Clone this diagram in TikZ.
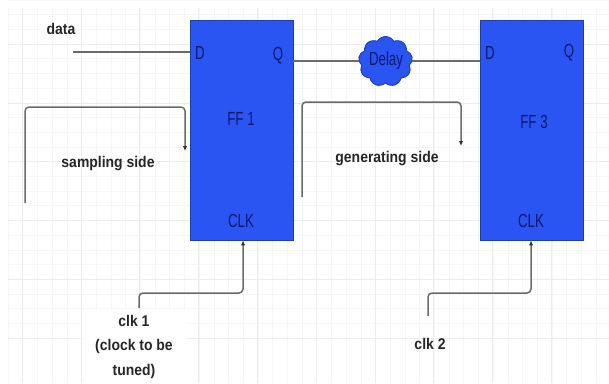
\documentclass[tikz,border=0pt]{standalone}
\usepackage{fontspec}
\setmainfont{Liberation Sans}
\usetikzlibrary{shapes.symbols,arrows.meta}
\definecolor{ffblue}{HTML}{2B55F2}
\definecolor{ffedge}{HTML}{1F3FA8}
\definecolor{ink}{HTML}{0C1A6E}
\definecolor{wire}{HTML}{6A6A6A}
\definecolor{gridminor}{HTML}{F6F6F6}
\definecolor{gridmajor}{HTML}{ECECEC}
\newcommand{\nrw}[1]{\scalebox{0.7}[1]{#1}}
\newcommand{\lnrw}[1]{\scalebox{0.9}[1]{#1}}
\tikzset{
  ffbox/.style={draw=ffedge,line width=0.9pt,fill=ffblue,minimum width=103pt,minimum height=220pt,inner sep=0pt},
  port/.style={text=ink,font=\fontsize{19}{22}\selectfont,inner sep=0pt},
  lbl/.style={text=black!85,font=\fontsize{15.5}{24.5}\selectfont\bfseries,inner sep=0pt,align=center},
  wireline/.style={draw=wire,line width=1.5pt},
  flow/.style={wireline,rounded corners=4pt,-{Latex[length=5pt,width=4.5pt,color=black!80]}},
  delaycloud/.style={cloud,cloud puffs=9,cloud puff arc=120,aspect=1.1,draw=ffedge,line width=0.9pt,fill=ffblue,minimum width=54pt,minimum height=50pt,inner sep=0pt},
}
\begin{document}
\begin{tikzpicture}[x=1pt,y=-1pt]
\useasboundingbox (0,0) rectangle (609,383);
\fill[white] (0,0) rectangle (609,383);
% grid
\foreach \i in {0,...,23} {
  \draw[gridminor,line width=0.5pt] (8,{-0.1+14.7*\i}) -- (609,{-0.1+14.7*\i});
}
\foreach \i in {0,...,41} {
  \draw[gridminor,line width=0.5pt] ({8+14.7*\i},8) -- ({8+14.7*\i},383);
}
\foreach \i in {0,...,6} {
  \draw[gridmajor,line width=0.5pt] (8,{44+58.8*\i}) -- (609,{44+58.8*\i});
}
\foreach \i in {0,...,10} {
  \draw[gridmajor,line width=0.5pt] ({22+58.8*\i},8) -- ({22+58.8*\i},383);
}
\fill[white] (82,310) rectangle (187,383);
% boxes
\node[ffbox] (ff1) at (241.5,130) {};
\node[ffbox] (ff3) at (531.5,130) {};
\node[delaycloud] (delay) at (385.5,61.5) {};
% text in shapes
\node[port] (delaytxt) at (386,61) {\nrw{Delay}};
\node[port] (d1) at (200,53) {\nrw{D}};
\node[port] (q1) at (278,56) {\nrw{Q}};
\node[port] (ff1t) at (241,119) {\nrw{FF 1}};
\node[port] (clk1t) at (241,221) {\nrw{CLK}};
\node[port] (d3) at (490,53) {\nrw{D}};
\node[port] (q3) at (569,53) {\nrw{Q}};
\node[port] (ff3t) at (534,122) {\nrw{FF 3}};
\node[port] (clk3t) at (531,221) {\nrw{CLK}};
% labels
\node[lbl] (data) at (61,29) {\lnrw{data}};
\node[lbl] (samp) at (108,164) {\lnrw{sampling side}};
\node[lbl] (gen) at (387,159) {\lnrw{generating side}};
\node[lbl] (clk1) at (134,346) {\lnrw{\begin{tabular}{@{}c@{}}clk 1\\(clock to be\\tuned)\end{tabular}}};
\node[lbl] (clk2) at (430,344) {\lnrw{clk 2}};
% connector ends
\coordinate (datain) at (73,52);
\coordinate (ff1d) at (190,52);
\coordinate (ff1q) at (293,61);
\coordinate (ff3d) at (480,61);
\coordinate (s0) at (25,203);
\coordinate (s1) at (25,107);
\coordinate (s2) at (185,107);
\coordinate (s3) at (185,151);
\coordinate (g0) at (302,197);
\coordinate (g1) at (302,102);
\coordinate (g2) at (461,102);
\coordinate (g3) at (461,146);
\coordinate (c0) at (139,308);
\coordinate (c1) at (139,293);
\coordinate (c2) at (243,293);
\coordinate (e0) at (428,316);
\coordinate (e1) at (428,293);
\coordinate (e2) at (531,293);
% connectors
\draw[wireline] (datain) -- (ff1d);
\draw[wireline] (ff1q) -- (delay.west |- ff1q);
\draw[wireline] (delay.east |- ff3d) -- (ff3d);
\draw[flow] (s0) -- (s1) -- (s2) -- (s3);
\draw[flow] (g0) -- (g1) -- (g2) -- (g3);
\draw[flow] (c0) -- (c1) -- (c2) -- (c2 |- ff1.south);
\draw[flow] (e0) -- (e1) -- (e2) -- (e2 |- ff3.south);
\end{tikzpicture}
\end{document}
